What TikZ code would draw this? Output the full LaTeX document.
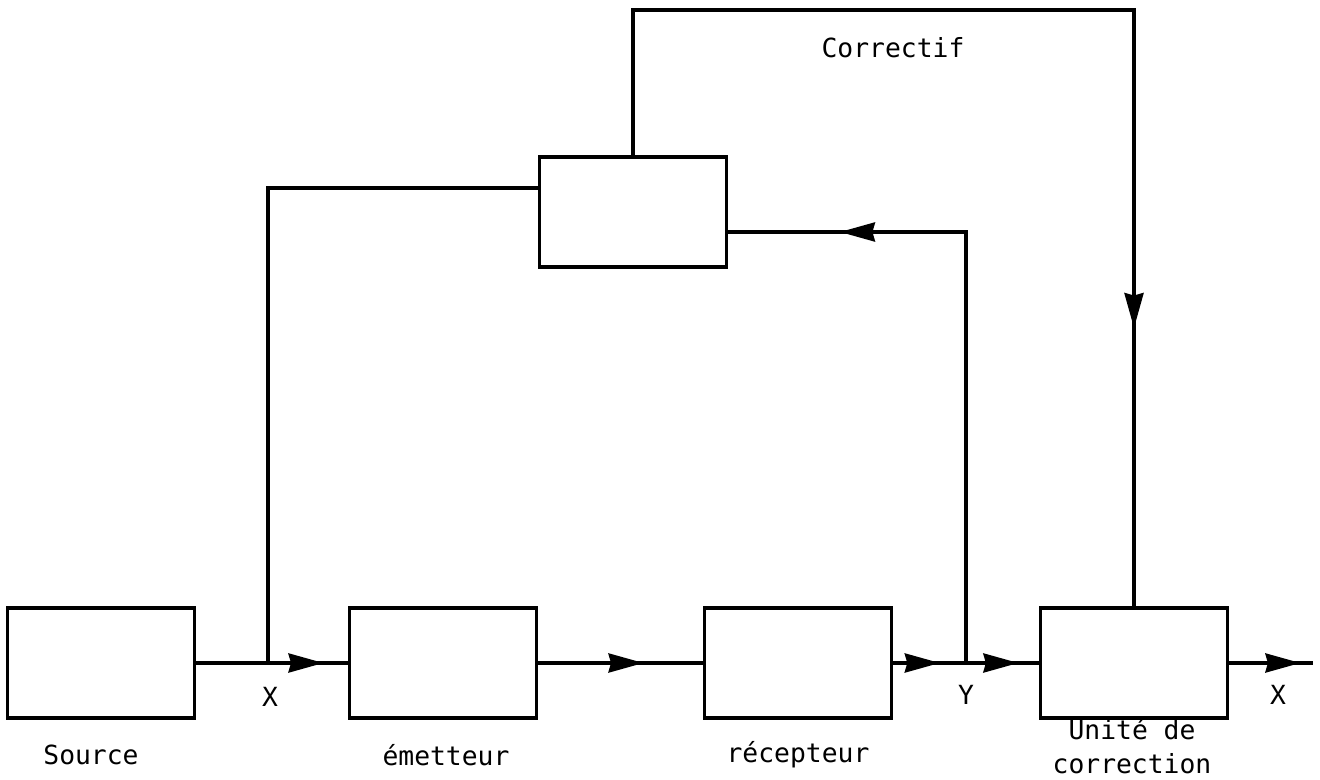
\documentclass[tikz,border=0pt]{standalone}
\usepackage{fontspec}
\setmonofont{DejaVu Sans Mono}
\usepackage{tikz}
\usetikzlibrary{calc, arrows.meta, decorations.markings}

\begin{document}
\begin{tikzpicture}[
    x = 0.02cm, y = -0.02cm, line width = 2pt,
    every node/.style = {font = \ttfamily\fontsize{15}{19}\selectfont},
    block/.style = {draw, rectangle, minimum width = 3.74cm, minimum height = 2.2cm},
    tip/.style = {postaction = {decorate, decoration = {markings,
        mark = at position #1 with {\arrow{Stealth[length=7mm, width=3.8mm, inset=0.5mm]}}}}},
    twotips/.style 2 args = {postaction = {decorate, decoration = {markings,
        mark = at position #1 with {\arrow{Stealth[length=7mm, width=3.8mm, inset=0.5mm]}},
        mark = at position #2 with {\arrow{Stealth[length=7mm, width=3.8mm, inset=0.5mm]}}}}}
  ]
  \useasboundingbox (0,0) rectangle (1320,780);

  % blocks of the chain
  \node[block] (src) at (101,663) {};
  \node[block] (emit) at (443,663) {};
  \node[block] (recv) at (798,663) {};
  \node[block] (corr) at (1134,663) {};
  \node[block] (ctrl) at (633,212) {};

  % branch points and free end
  \coordinate (xtap) at (268,663);
  \coordinate (ytap) at (966,663);
  \coordinate (out) at (1313,663);

  % main line
  \draw[tip=0.84] (src.east) -- (emit.west);
  \draw[tip=0.64] (emit.east) -- (recv.west);
  \draw[twotips={0.32}{0.86}] (recv.east) -- (corr.west);
  \draw[tip=0.85] (corr.east) -- (out);

  % feedback loops
  \draw (xtap) |- ($(ctrl.west)+(0,-24)$);
  \draw[tip=0.833] (ytap) |- ($(ctrl.east)+(0,20)$);
  \draw[tip=0.776] (ctrl.north) -- ++(0,-145) -| (corr.north);

  % Labels
  \node (lx) at (270,697) {X};
  \node (ly) at (966,695) {Y};
  \node (lxout) at (1278,695) {X};
  \node (lcorrectif) at (893,48) {Correctif};
  \node (lsrc) at (91,755) {Source};
  \node (lemit) at (446,755) {émetteur};
  \node (lrecv) at (798,755) {récepteur};
  \node[align=center] (lcorr) at (1132,746) {Unité de\\correction};
\end{tikzpicture}
\end{document}
